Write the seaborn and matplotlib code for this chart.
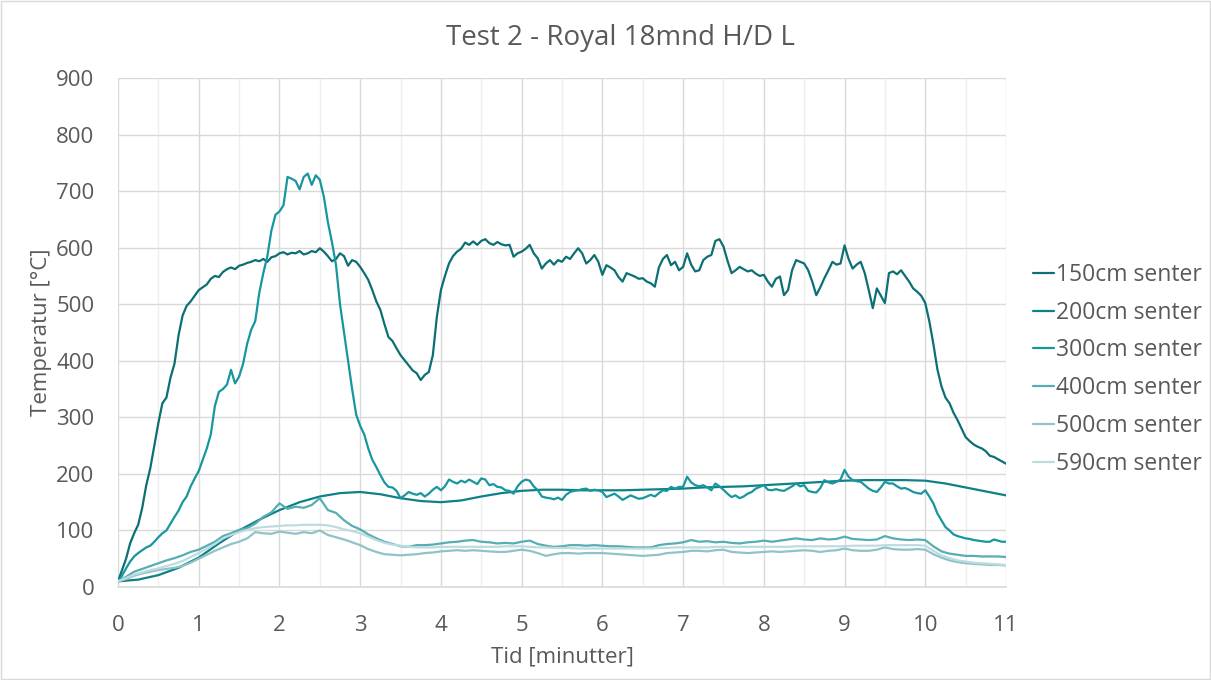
import numpy as np
import pandas as pd
import matplotlib
matplotlib.use("Agg")
import matplotlib.pyplot as plt
from matplotlib.patches import Rectangle
from matplotlib.ticker import MultipleLocator
import seaborn as sns

# ---------------- data ----------------
series_names = ["150cm senter", "200cm senter", "300cm senter",
                "400cm senter", "500cm senter", "590cm senter"]
colors = ["#0b6f74", "#0e8187", "#17979d", "#56adb2", "#8fc3c7", "#bedcdf"]

t_fine = np.round(np.arange(0, 11.0001, 0.05), 2)      # 221 samples
t_mid = np.round(np.arange(0, 11.0001, 0.1), 2)        # 111 samples
t_smooth = np.round(np.arange(0, 11.0001, 0.25), 2)    # 45 samples

s150 = [10, 30, 50, 77, 95, 110, 140, 180, 210, 250, 290, 325, 335, 370, 395, 445, 480, 497, 505, 515,
        525, 530, 535, 545, 550, 548, 557, 562, 565, 562, 568, 570, 573, 575, 578, 576, 580, 575, 583, 585,
        590, 592, 588, 591, 590, 594, 588, 590, 594, 592, 599, 593, 585, 576, 580, 590, 585, 568, 578, 575,
        566, 555, 543, 525, 505, 490, 465, 442, 435, 422, 410, 401, 392, 383, 378, 366, 375, 380, 410, 478,
        525, 550, 572, 585, 593, 598, 609, 605, 611, 605, 612, 615, 608, 605, 610, 606, 604, 605, 584, 590,
        593, 598, 605, 590, 581, 563, 572, 578, 570, 578, 575, 584, 580, 590, 599, 590, 572, 578, 587, 575,
        552, 569, 565, 560, 548, 540, 555, 552, 549, 545, 546, 540, 537, 531, 565, 580, 587, 569, 575, 560,
        566, 590, 570, 558, 560, 578, 584, 587, 612, 615, 602, 577, 555, 560, 566, 562, 558, 560, 554, 550,
        552, 540, 531, 545, 549, 516, 525, 560, 578, 575, 572, 560, 540, 516, 530, 546, 560, 575, 570, 572,
        604, 580, 563, 570, 575, 555, 525, 493, 528, 515, 502, 555, 558, 553, 560, 550, 540, 528, 522, 515,
        502, 470, 430, 385, 355, 335, 325, 308, 295, 280, 265, 258, 252, 248, 245, 240, 232, 230, 226, 222,
        218]

s300 = [10, 20, 33, 45, 54, 60, 65, 70, 73, 80, 88, 95, 100, 112, 124, 135, 150, 160, 178, 192,
        205, 225, 245, 270, 320, 345, 350, 358, 384, 360, 372, 395, 430, 455, 470, 520, 555, 585, 630, 658,
        664, 675, 725, 722, 718, 703, 725, 731, 711, 728, 720, 690, 645, 610, 570, 500, 450, 400, 350, 305,
        285, 270, 245, 225, 212, 198, 185, 177, 176, 170, 157, 162, 168, 165, 163, 166, 160, 165, 172, 177,
        171, 178, 190, 186, 183, 188, 185, 190, 186, 182, 192, 190, 180, 182, 177, 176, 171, 170, 165, 178,
        186, 190, 188, 178, 171, 160, 158, 157, 155, 158, 154, 163, 168, 170, 171, 173, 174, 170, 172, 171,
        168, 159, 162, 165, 160, 154, 158, 162, 159, 156, 157, 160, 163, 160, 166, 171, 170, 177, 174, 177,
        177, 195, 185, 180, 178, 180, 176, 171, 183, 178, 172, 165, 159, 162, 157, 160, 165, 168, 174, 177,
        180, 172, 171, 173, 171, 170, 174, 178, 183, 178, 180, 170, 168, 167, 175, 189, 185, 183, 186, 190,
        207, 195, 189, 187, 186, 180, 174, 170, 168, 176, 186, 183, 183, 178, 174, 175, 172, 168, 166, 165,
        171, 160, 148, 130, 118, 106, 100, 93, 90, 88, 86, 85, 83, 82, 81, 80, 80, 84, 82, 80,
        80]

s200 = [10, 13, 21, 34, 52, 77, 100, 119, 136, 150, 160, 166, 168, 164, 157, 152, 150, 153, 160, 166,
        170, 172, 172, 171, 171, 171, 172, 173, 174, 176, 177, 178, 180, 182, 184, 186, 188, 189, 189, 189,
        188, 183, 176, 169, 162]

s400 = [10, 18, 27, 32, 37, 42, 47, 51, 56, 62,
        66, 73, 80, 90, 95, 101, 104, 112, 124, 132,
        148, 138, 142, 140, 145, 157, 136, 131, 118, 108,
        102, 93, 86, 80, 76, 72, 71, 74, 74, 75,
        77, 79, 80, 82, 83, 80, 79, 77, 78, 77,
        80, 82, 76, 73, 71, 72, 74, 74, 73, 74,
        73, 72, 72, 71, 70, 70, 70, 74, 76, 77,
        79, 83, 80, 81, 79, 80, 78, 77, 79, 80,
        82, 80, 82, 84, 86, 84, 83, 86, 84, 85,
        89, 85, 84, 83, 84, 90, 86, 84, 83, 84,
        83, 72, 63, 59, 57, 55, 55, 54, 54, 54,
        53]

s500 = [10, 14, 20, 24, 27, 30, 32, 34, 37, 43,
        50, 57, 64, 70, 76, 80, 86, 97, 95, 94,
        98, 96, 94, 97, 95, 100, 92, 88, 84, 79,
        74, 67, 62, 58, 57, 56, 57, 58, 60, 61,
        63, 64, 65, 64, 65, 64, 63, 62, 62, 64,
        66, 64, 60, 55, 58, 60, 60, 59, 60, 60,
        60, 59, 58, 57, 56, 55, 56, 57, 60, 61,
        62, 64, 64, 63, 65, 66, 62, 61, 60, 61,
        62, 63, 62, 63, 64, 65, 64, 62, 64, 65,
        68, 65, 64, 64, 66, 70, 67, 66, 66, 67,
        66, 58, 52, 47, 44, 42, 41, 40, 39, 39,
        38]

s590 = [10, 16, 22, 26, 30, 33, 37, 41, 46, 53,
        60, 68, 76, 86, 92, 97, 101, 104, 106, 107,
        108, 109, 109, 110, 110, 110, 109, 106, 102, 99,
        95, 89, 83, 78, 75, 73, 71, 70, 70, 70,
        71, 71, 71, 71, 71, 71, 71, 71, 72, 72,
        72, 71, 70, 70, 69, 69, 69, 68, 68, 68,
        68, 68, 68, 68, 68, 68, 68, 69, 69, 70,
        70, 70, 70, 70, 71, 71, 71, 71, 71, 71,
        71, 71, 71, 71, 72, 72, 72, 72, 72, 72,
        72, 73, 73, 73, 73, 74, 74, 74, 74, 74,
        73, 64, 56, 51, 47, 45, 43, 42, 41, 40,
        39]

x_ticks = list(range(0, 12))
y_ticks = list(range(0, 1000, 100))

frames = [
    pd.DataFrame({"t": t_fine, "v": s150, "serie": series_names[0]}),
    pd.DataFrame({"t": t_smooth, "v": s200, "serie": series_names[1]}),
    pd.DataFrame({"t": t_fine, "v": s300, "serie": series_names[2]}),
    pd.DataFrame({"t": t_mid, "v": s400, "serie": series_names[3]}),
    pd.DataFrame({"t": t_mid, "v": s500, "serie": series_names[4]}),
    pd.DataFrame({"t": t_mid, "v": s590, "serie": series_names[5]}),
]
df = pd.concat(frames, ignore_index=True)

# ---------------- style ----------------
sns.set_theme(style="white")
plt.rcParams["font.family"] = ["Open Sans", "DejaVu Sans"]
text_col = "#595959"
grid_major = "#d9d9d9"
grid_minor = "#efefef"

fig = plt.figure(figsize=(12.11, 6.8), dpi=100)
ax = fig.add_axes([118 / 1211, 1 - 587 / 680, (1006 - 118) / 1211, (587 - 78) / 680])

sns.lineplot(data=df, x="t", y="v", hue="serie", hue_order=series_names,
             palette=colors, estimator=None, sort=True, linewidth=1.6, ax=ax, zorder=3)

ax.set_xlim(0, 11)
ax.set_ylim(0, 900)
ax.xaxis.set_major_locator(MultipleLocator(1))
ax.xaxis.set_minor_locator(MultipleLocator(0.5))
ax.yaxis.set_major_locator(MultipleLocator(100))
ax.set_xticks(x_ticks)
ax.set_yticks(y_ticks)
ax.grid(which="major", axis="both", color=grid_major, linewidth=1.0, zorder=0)
ax.grid(which="minor", axis="x", color=grid_minor, linewidth=1.0, zorder=0)
ax.set_axisbelow(True)
for side in ["top", "right", "left"]:
    ax.spines[side].set_visible(False)
ax.spines["bottom"].set_color(grid_major)
ax.spines["bottom"].set_linewidth(1.2)
ax.tick_params(axis="both", which="both", length=0, labelsize=16, labelcolor=text_col)
ax.tick_params(axis="x", pad=20)
ax.tick_params(axis="y", pad=17)

ax.set_xlabel("Tid [minutter]", fontsize=16, color=text_col)
ax.set_ylabel("Temperatur [°C]", fontsize=16, color=text_col)
ax.xaxis.set_label_coords(0.5, -0.117)
ax.yaxis.set_label_coords(-0.074, 0.5)
fig.text(620 / 1211, 1 - 38 / 680, "Test 2 - Royal 18mnd H/D L", fontsize=20,
         color=text_col, ha="center", va="center")

handles, labels = ax.get_legend_handles_labels()
leg = ax.legend(handles, labels, loc="center left", bbox_to_anchor=(1.03, 0.428),
                frameon=False, fontsize=16.5, handlelength=0.95, handletextpad=0.05,
                labelspacing=0.6, borderaxespad=0, borderpad=0)
for txt in leg.get_texts():
    txt.set_color(text_col)

fig.patches.append(Rectangle((0.0008, 0.0012), 0.9984, 0.9976, transform=fig.transFigure,
                             fill=False, edgecolor="#d9d9d9", linewidth=1.0))

fig.savefig("out.png", dpi=100)
